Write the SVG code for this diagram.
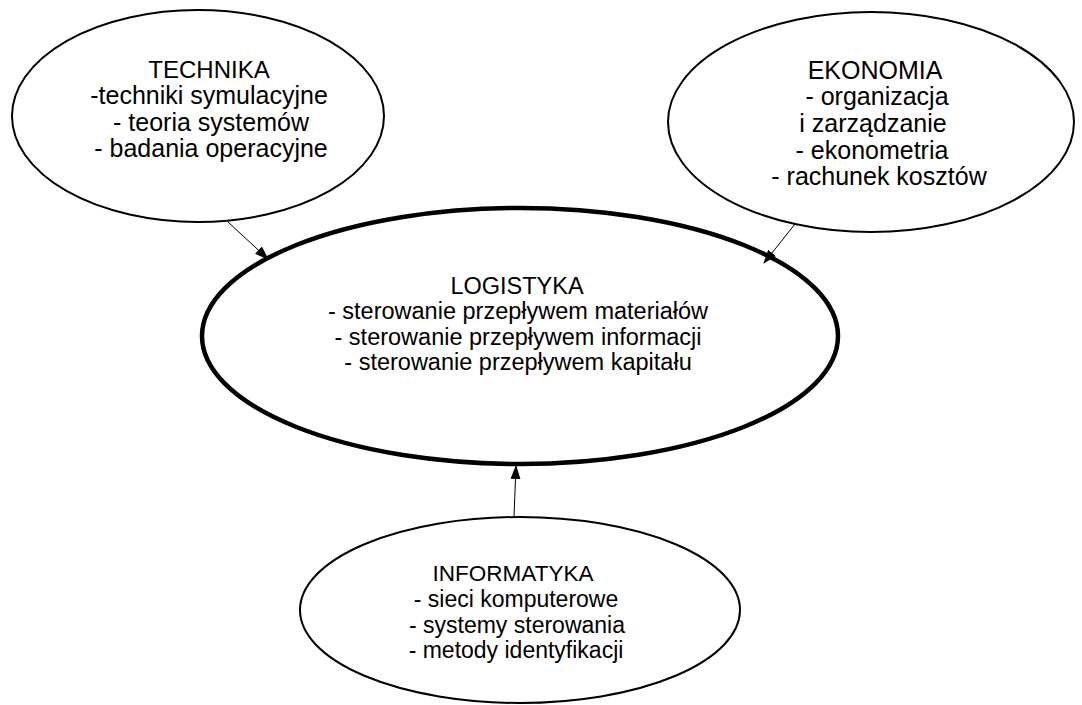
<svg xmlns="http://www.w3.org/2000/svg" width="1082" height="705" viewBox="0 0 1082 705">
<style>
.n{fill:#fff;stroke:#000;stroke-width:2}
.b{fill:#fff;stroke:#000;stroke-width:4.5}
text{font-family:"Liberation Sans",Arial,sans-serif;font-size:25px;fill:#000;text-anchor:middle}
.L text{font-size:23.5px}
.I text{font-size:23px}
text.t{font-size:24px}
.L text.t{font-size:23.5px}
.I text.t{font-size:22.5px}
.c{stroke:#000;stroke-width:1;fill:none;marker-end:url(#a)}
</style>
<defs>
<marker id="a" viewBox="0 0 14 10" refX="13" refY="5" markerWidth="14" markerHeight="10" markerUnits="userSpaceOnUse" orient="auto">
<path d="M0,0L14,5L0,10z" fill="#000"/>
</marker>
</defs>
<rect width="1082" height="705" fill="#fff"/>
<g id="technika">
<ellipse class="n" cx="198" cy="116" rx="186" ry="106"/>
<text class="t" x="209" y="78">TECHNIKA</text>
<text x="209" y="104">-techniki symulacyjne</text>
<text x="211" y="131">- teoria systemów</text>
<text x="211" y="157">- badania operacyjne</text>
</g>
<g id="ekonomia">
<ellipse class="n" cx="871" cy="122" rx="203" ry="110"/>
<text x="875" y="79">EKONOMIA</text>
<text x="877" y="105">- organizacja</text>
<text x="873" y="132">i zarządzanie</text>
<text x="872" y="159">- ekonometria</text>
<text x="879" y="185">- rachunek kosztów</text>
</g>
<g id="logistyka" class="L">
<ellipse class="b" cx="520" cy="336" rx="318" ry="128"/>
<text class="t" x="517" y="294">LOGISTYKA</text>
<text x="518" y="319">- sterowanie przepływem materiałów</text>
<text x="518" y="345">- sterowanie przepływem informacji</text>
<text x="518" y="370">- sterowanie przepływem kapitału</text>
</g>
<g id="informatyka" class="I">
<ellipse class="n" cx="520" cy="610" rx="220" ry="93"/>
<text class="t" x="513" y="581">INFORMATYKA</text>
<text x="516" y="607">- sieci komputerowe</text>
<text x="517" y="633">- systemy sterowania</text>
<text x="516" y="658">- metody identyfikacji</text>
</g>
<g id="connectors">
<line class="c" x1="228" y1="222" x2="268" y2="259"/>
<line class="c" x1="795" y1="224" x2="764" y2="263"/>
<line class="c" x1="514" y1="517" x2="516" y2="466"/>
</g>
</svg>
